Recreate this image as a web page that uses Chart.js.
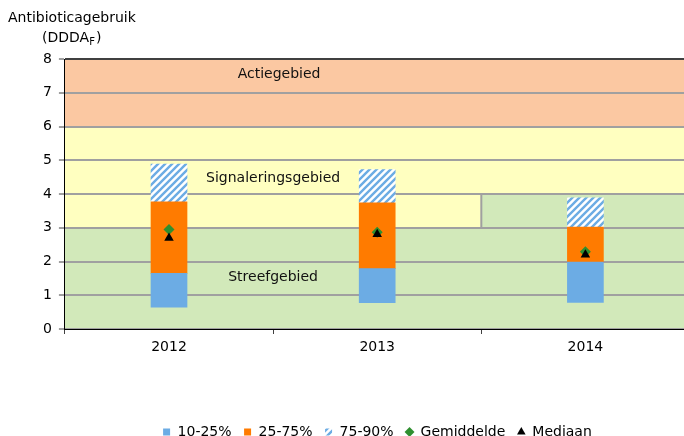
<!DOCTYPE html>
<html lang="nl">
  <head>
    <meta charset="UTF-8" />
    <title>Antibioticagebruik</title>
    <script src="https://cdn.jsdelivr.net/npm/chart.js"></script>
    <style>
      html, body { margin: 0; padding: 0; background: #fff; overflow: hidden; }
      .wrap { width: 684px; height: 436px; overflow: hidden; position: relative; }
      canvas { display: block; }
    </style>
  </head>
  <body>
    <div class="wrap">
      <canvas id="abChart" width="695" height="449"></canvas>
    </div>

    <script>
      // chart data
      const years = ["2012", "2013", "2014"];
      const p10 = [0.65, 0.78, 0.79];
      const p25 = [1.65, 1.79, 1.98];
      const p75 = [3.77, 3.74, 3.02];
      const p90 = [4.89, 4.72, 3.89];
      const mean = [2.95, 2.87, 2.29];
      const median = [2.70, 2.81, 2.20];

      const BLUE = "#6cace4";
      const ORANGE = "#ff7b00";
      const GREEN = "#2f8f2f";

      Chart.defaults.font.family = "'DejaVu Sans', Verdana, sans-serif";
      Chart.defaults.font.size = 14;
      Chart.defaults.color = "#000";

      function makeHatch() {
        const c = document.createElement("canvas");
        c.width = 7;
        c.height = 7;
        const g = c.getContext("2d");
        g.fillStyle = "#fff";
        g.fillRect(0, 0, 7, 7);
        g.strokeStyle = BLUE;
        g.lineWidth = 2.4;
        g.beginPath();
        g.moveTo(-2, 9); g.lineTo(9, -2);
        g.moveTo(-2, 2); g.lineTo(2, -2);
        g.moveTo(5, 9); g.lineTo(9, 5);
        g.stroke();
        return g.createPattern(c, "repeat");
      }

      // coloured zones + their labels
      const zones = {
        id: "zones",
        beforeDraw(chart) {
          const { ctx, chartArea: a, scales: { x, y } } = chart;
          const band = (x0, x1, lo, hi, col) => {
            const top = y.getPixelForValue(hi);
            const bot = y.getPixelForValue(lo);
            ctx.fillStyle = col;
            ctx.fillRect(x0, top, x1 - x0, bot - top);
          };
          const split = (x.getPixelForValue(1) + x.getPixelForValue(2)) / 2;
          ctx.save();
          band(a.left, a.right, 0, 3, "#d2e9ba");
          band(a.left, a.right, 3, 6, "#ffffc0");
          band(a.left, a.right, 6, 8, "#fbc8a2");
          band(split, a.right, 3, 4, "#d2e9ba");
          ctx.strokeStyle = "#a0a0a0";
          ctx.lineWidth = 2;
          ctx.beginPath();
          ctx.moveTo(split, y.getPixelForValue(3));
          ctx.lineTo(split, y.getPixelForValue(4));
          ctx.stroke();
          ctx.restore();
        },
        afterDatasetsDraw(chart) {
          const { ctx, scales: { x, y } } = chart;
          const mid = (x.getPixelForValue(0) + x.getPixelForValue(1)) / 2;
          ctx.save();
          ctx.fillStyle = "#111";
          ctx.font = "14px 'DejaVu Sans'";
          ctx.textAlign = "center";
          ctx.textBaseline = "middle";
          ctx.fillText("Actiegebied", mid + 6, y.getPixelForValue(7.55));
          ctx.fillText("Signaleringsgebied", mid, y.getPixelForValue(4.45));
          ctx.fillText("Streefgebied", mid, y.getPixelForValue(1.52));
          ctx.restore();
        },
        afterDraw(chart) {
          const ctx = chart.ctx;
          ctx.save();
          ctx.fillStyle = "#000";
          ctx.textBaseline = "alphabetic";
          ctx.textAlign = "left";
          ctx.font = "14px 'DejaVu Sans'";
          ctx.fillText("Antibioticagebruik", 8, 22);
          let w = ctx.measureText("(DDDA").width;
          ctx.fillText("(DDDA", 42, 42);
          ctx.font = "10px 'DejaVu Sans'";
          ctx.fillText("F", 42 + w, 45);
          const wf = ctx.measureText("F").width;
          ctx.font = "14px 'DejaVu Sans'";
          ctx.fillText(")", 42 + w + wf + 1, 42);
          ctx.restore();
        },
      };

      const hatch = makeHatch();
      const ctx = document.getElementById("abChart").getContext("2d");
      new Chart(ctx, {
        type: "bar",
        data: {
          labels: years,
          datasets: [
            {
              label: "10-25%",
              data: years.map((_, i) => [p10[i], p25[i]]),
              backgroundColor: BLUE,
              pointStyle: "rect",
              grouped: false,
              barThickness: 36,
              order: 2,
            },
            {
              label: "25-75%",
              data: years.map((_, i) => [p25[i], p75[i]]),
              backgroundColor: ORANGE,
              pointStyle: "rect",
              grouped: false,
              barThickness: 36,
              order: 2,
            },
            {
              label: "75-90%",
              data: years.map((_, i) => [p75[i], p90[i]]),
              backgroundColor: hatch,
              pointStyle: "rect",
              grouped: false,
              barThickness: 36,
              order: 2,
            },
            {
              type: "line",
              label: "Gemiddelde",
              data: mean,
              showLine: false,
              pointStyle: "rectRot",
              pointRadius: 5.5,
              pointBorderWidth: 0,
              backgroundColor: GREEN,
              borderColor: GREEN,
              order: 1,
            },
            {
              type: "line",
              label: "Mediaan",
              data: median,
              showLine: false,
              pointStyle: "triangle",
              pointRadius: 5.5,
              pointBorderWidth: 0,
              backgroundColor: "#000",
              borderColor: "#000",
              order: 0,
            },
          ],
        },
        options: {
          responsive: false,
          animation: false,
          layout: { padding: { top: 59, left: 36, right: 1, bottom: 0 } },
          plugins: {
            tooltip: { enabled: false },
            legend: {
              position: "bottom",
              fullSize: false,
              labels: {
                usePointStyle: true,
                boxWidth: 8,
                boxHeight: 7,
                padding: 12,
                color: "#000",
                font: { size: 14 },
                sort: (a, b) => a.datasetIndex - b.datasetIndex,
              },
            },
          },
          scales: {
            x: {
              offset: true,
              grid: {
                offset: true,
                drawOnChartArea: false,
                tickLength: 5,
                tickColor: "#404040",
                tickWidth: 1,
              },
              border: { color: "#000", width: 1 },
              ticks: { padding: 5, color: "#000" },
              afterFit(scale) {
                scale.height = 84;
              },
            },
            y: {
              min: 0,
              max: 8,
              ticks: { stepSize: 1, padding: 7, color: "#000" },
              grid: {
                color: (c) => (c.tick && c.tick.value === 8 ? "#404040" : "#a0a0a0"),
                lineWidth: 2,
                tickLength: 6,
                tickColor: "#404040",
                tickWidth: 1,
              },
              border: { color: "#000", width: 1 },
            },
          },
        },
        plugins: [zones],
      });
    </script>
  </body>
</html>
